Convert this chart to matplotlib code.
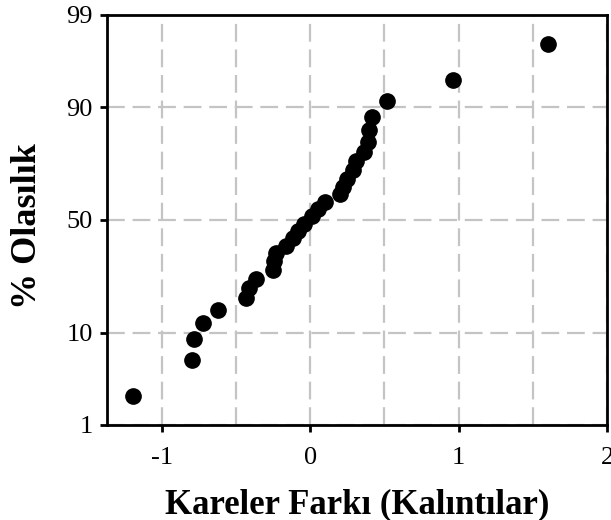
import numpy as np
from matplotlib import pyplot as plt
from statistics import NormalDist

# residuals (sorted)
residuals = [-1.196, -0.796, -0.780, -0.724, -0.622, -0.432, -0.409, -0.364,
             -0.252, -0.241, -0.232, -0.162, -0.117, -0.083, -0.040, 0.010,
             0.050, 0.100, 0.200, 0.220, 0.250, 0.290, 0.310, 0.360,
             0.390, 0.400, 0.420, 0.520, 0.960, 1.600]
# cumulative probability (%) of each point
percents = [2.30, 5.59, 8.88, 12.17, 15.46, 18.75, 22.04, 25.33,
            28.62, 31.91, 35.20, 38.49, 41.78, 45.07, 48.36, 51.64,
            54.93, 58.22, 61.51, 64.80, 68.09, 71.38, 74.67, 77.96,
            81.25, 84.54, 87.83, 91.12, 94.41, 97.70]
y_ticks = [1, 10, 50, 90, 99]
x_ticks = [-1, 0, 1, 2]

nd = NormalDist()
z = lambda p: nd.inv_cdf(p / 100.0)

plt.rcParams['font.family'] = ['Liberation Serif', 'DejaVu Serif']

fig = plt.figure(figsize=(6.11, 5.2), dpi=100)
ax = fig.add_axes([0.1746, 0.1827, 0.8189, 0.7885])

ax.plot(residuals, [z(p) for p in percents], 'o', color='black', markersize=11,
        markeredgecolor='black', zorder=3, clip_on=False)

ax.set_xlim(-1.37, 2.0)
ax.set_ylim(z(1), z(99))
ax.set_xticks(x_ticks)
ax.set_xticklabels([str(t) for t in x_ticks])
ax.set_xticks([-0.5, 0.5, 1.5], minor=True)
ax.set_yticks([z(t) for t in y_ticks])
ax.set_yticklabels([str(t) for t in y_ticks])

ax.grid(True, which='both', axis='x', color='#c4c4c4', linewidth=1.6, linestyle=(0, (8, 3.5)))
ax.grid(True, which='major', axis='y', color='#c4c4c4', linewidth=1.6, linestyle=(0, (8, 3.5)))
ax.set_axisbelow(True)
ax.tick_params(which='minor', length=0)
ax.tick_params(which='major', direction='out', length=5, width=2, labelsize=19)
ax.tick_params(axis='x', pad=11)
ax.tick_params(axis='y', pad=5)

for s in ax.spines.values():
    s.set_linewidth(2)

ax.set_xlabel('Kareler Farkı (Kalıntılar)', fontsize=25, fontweight='bold')
ax.set_ylabel('% Olasılık', fontsize=26, fontweight='bold')
ax.xaxis.set_label_coords(0.5, -0.155)
ax.yaxis.set_label_coords(-0.125, 0.485)

fig.savefig('out.png', dpi=100)
